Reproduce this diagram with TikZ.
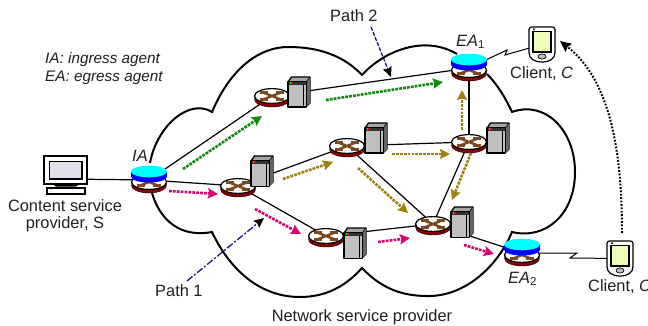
\documentclass[tikz,border=0pt]{standalone}
\usepackage{fontspec}
\setmainfont{Liberation Sans}
\usetikzlibrary{arrows.meta}
\definecolor{routerred}{HTML}{8B0000}
\definecolor{crossbrown}{HTML}{7A4A1E}
\definecolor{pathgreen}{HTML}{128A12}
\definecolor{pathpink}{HTML}{D4086A}
\definecolor{patholive}{HTML}{A08010}
\definecolor{pathnavy}{HTML}{1A1090}
\definecolor{screenpda}{HTML}{F0FFB8}
\definecolor{screenpc}{HTML}{DFE0EA}
\definecolor{capcyan}{HTML}{00FFFF}
\definecolor{capblue}{HTML}{0000FF}
\tikzset{
  anchorpt/.style={inner sep=0pt,minimum size=0pt,outer sep=0pt},
  lbl/.style={inner sep=0pt,text=black!88,font=\fontsize{16.4}{18}\selectfont},
  ilbl/.style={lbl,font=\fontsize{16.4}{18}\selectfont\itshape},
  legend/.style={lbl,font=\fontsize{15.3}{17}\selectfont\itshape},
  link/.style={line width=1.2pt,black},
  cloudline/.style={line width=2pt,black},
  flow/.style={line width=2.6pt,dash pattern=on 2.8pt off 1.1pt,-{Stealth[length=10pt,width=10pt,inset=1.5pt]}},
  flowgreen/.style={flow,draw=pathgreen},
  flowpink/.style={flow,draw=pathpink},
  flowolive/.style={flow,draw=patholive},
  pathtag/.style={line width=1.3pt,draw=pathnavy,-{Stealth[length=10pt,width=9pt,inset=1.5pt,black]}},
  routerdisc/.pic={
    \fill[routerred,draw=black,line width=.4pt] (-17.5,0) -- (-17.5,3.5) arc[start angle=180,end angle=360,x radius=17.5pt,y radius=7.5pt] -- (17.5,0) -- cycle;
    \draw[fill=white,line width=1.2pt] (0,0) ellipse (17.5pt and 7.4pt);
    \draw[crossbrown,line width=2.5pt] (-8,-3.2) -- (8,3.2) (-8,3.2) -- (8,-3.2);
    \draw[crossbrown,line width=2.3pt] (-12,-3.4) -- (-4,-3.4) (4,-3.4) -- (12,-3.4) (-12,3.4) -- (-4,3.4) (4,3.4) -- (12,3.4);
  },
  agentcap/.pic={
    \fill[capblue] (-18,-8.5) -- (-18,-3.3) arc[start angle=180,end angle=360,x radius=18pt,y radius=5.8pt] -- (18,-8.5) -- cycle;
    \fill[capcyan] (0,-8.5) ellipse (18pt and 5.8pt);
  },
  serverbox/.pic={
    \draw[fill=black!35,line width=1.3pt,line join=round] (-11,-10) -- (-7.5,-15) -- (11,-15) -- (11,11) -- (7,15) -- (-11,15) -- cycle;
    \fill[black!60] (7,-10) -- (11,-15) -- (11,11) -- (7,15) -- cycle;
    \draw[line width=1.3pt,line join=round] (-11,15) rectangle (7,-10);
    \fill[black!80] (-10.5,-10) rectangle (6.5,-7);
    \fill[black!25] (-10.5,-7) rectangle (6.5,14.5);
    \draw[line width=.7pt] (4.5,-7) -- (4.5,14.5);
    \draw[line width=.6pt] (7,-10) -- (11,-15);
    \fill[green] (-9.5,-9.7) rectangle (-8,-8.2);
    \fill[red] (-8,-9.7) rectangle (-6.5,-8.2);
  },
  pda/.pic={
    \draw[fill=white,line width=1.2pt] (-13,-15) -- (-13,8) .. controls (-13,14) and (-8,17.5) .. (0,17.5) .. controls (8,17.5) and (13,14) .. (13,8) -- (13,-15) .. controls (13,-17.5) and (11,-17.5) .. (10,-17.5) -- (-10,-17.5) .. controls (-11,-17.5) and (-13,-17.5) .. (-13,-15) -- cycle;
    \draw[fill=screenpda,line width=1.1pt] (-9,-13) rectangle (9,7.5);
    \draw[fill=black!25,line width=.7pt] (0,12) ellipse (4pt and 2.6pt);
    \fill (-8,-15.2) circle (1.1pt);
  },
}
\begin{document}
\begin{tikzpicture}[x=1pt,y=-1pt]
\useasboundingbox (0,0) rectangle (648,326);
\clip (0,0) rectangle (648,326);
% anchors of the network elements
\node[anchorpt] (pc) at (65,179) {};
\node[anchorpt] (ia) at (149,180) {};
\node[anchorpt] (ea1) at (469,68) {};
\node[anchorpt] (ea2) at (522,253) {};
\node[anchorpt] (r1) at (272,96) {};
\node[anchorpt] (r2) at (238,186) {};
\node[anchorpt] (r3) at (347,146) {};
\node[anchorpt] (r4) at (326,236) {};
\node[anchorpt] (r5) at (469,142) {};
\node[anchorpt] (r6) at (433,224) {};
\node[anchorpt] (s1) at (299,92) {};
\node[anchorpt] (s2) at (262,171) {};
\node[anchorpt] (s3) at (376,138) {};
\node[anchorpt] (s4) at (355,243) {};
\node[anchorpt] (s5) at (498,138) {};
\node[anchorpt] (s6) at (462,222) {};
\node[anchorpt] (c1) at (542,44.5) {};
\node[anchorpt] (c2) at (620,258.5) {};
% cloud
\draw[cloudline] (150,163) .. controls (157,125) and (190,98) .. (212,112)
  .. controls (232,65) and (262,47) .. (288,47)
  .. controls (318,47) and (343,55) .. (362,75)
  .. controls (385,50) and (425,35) .. (457,54);
\draw[cloudline] (487,74) .. controls (497,84) and (505,97) .. (512,112)
  .. controls (545,100) and (575,130) .. (575,172)
  .. controls (575,215) and (545,240) .. (512,232)
  .. controls (495,272) and (460,297) .. (427,296)
  .. controls (400,296) and (380,287) .. (362,268)
  .. controls (345,287) and (325,297) .. (300,297)
  .. controls (260,297) and (230,270) .. (212,232)
  .. controls (180,238) and (160,220) .. (152,193);
% links
\draw[link] (pc) -- (ia);
\draw[link] (ia) -- (r1);
\draw[link] (ia) -- (r2);
\draw[link] (r1) -- (ea1);
\draw[link] (r2) -- (r3);
\draw[link] (r2) -- (r4);
\draw[link] (r3) -- (r5);
\draw[link] (r3) -- (r6);
\draw[link] (r4) -- (r6);
\draw[link] (r5) -- (r6);
\draw[link] (r5) -- (ea1);
\draw[link] (r6) -- (ea2);
% wireless links
\draw[line width=1pt] (ea1) -- (507,50) -- (505,55) -- (c1);
\draw[line width=1pt] (ea2) -- (577,253) -- (570,258) -- (c2);
% routers, agents, servers
\foreach \n in {r1,r2,r3,r4,r5,r6} \pic at (\n) {routerdisc};
\foreach \n in {ia,ea1,ea2} {
  \path (\n) ++(0,2) pic {routerdisc};
  \pic at (\n) {agentcap};
}
\foreach \n in {s1,s2,s3,s4,s5,s6} \pic at (\n) {serverbox};
% computer
\draw[fill=white,line width=1.2pt] (44,156) rectangle (87,184);
\draw[fill=screenpc,line width=1.5pt] (49.5,161.5) rectangle (82,179);
\fill (52,184) -- (56,186.5) -- (76,186.5) -- (80,184) -- cycle;
\draw[fill=white,line width=1.2pt] (47,188) rectangle (85,194);
% clients
\pic at (c1) {pda};
\pic at (c2) {pda};
% flows
\draw[flowgreen] (183,169) -- (262,116);
\draw[flowgreen] (326,100) -- (443,82);
\draw[flowpink] (169,191) -- (218,194);
\draw[flowpink] (255,209) -- (301,234);
\draw[flowpink] (378,242) -- (410,238);
\draw[flowpink] (464,245) -- (494,254);
\draw[flowolive] (283,179) -- (333,162);
\draw[flowolive] (358,168) -- (408,213);
\draw[flowolive] (392,154) -- (450,154);
\draw[flowolive] (462,130) -- (462,90);
\draw[flowolive] (471,153) -- (452,200);
% path tags
\node[lbl,anchor=west] (path1) at (155,291) {Path 1};
\node[lbl,anchor=west] (path2) at (330,16) {Path 2};
\coordinate (t1) at (264,218);
\coordinate (t2) at (391,77);
\draw[pathtag,dash pattern=on 7pt off 2pt on 2pt off 2pt] (187,281) -- (t1);
\draw[pathtag,dash pattern=on 4pt off 1.5pt] (371,27) -- (t2);
% client dotted link
\draw[line width=2pt,dash pattern=on 1.8pt off 1.6pt,-{Stealth[length=11pt,width=10pt,inset=1.5pt]}] (622,233) .. controls (622,150) and (610,80) .. (560,41);
% labels
\node[legend,anchor=west] (legend1) at (45,60) {IA: ingress agent};
\node[legend,anchor=west] (legend2) at (45,78) {EA: egress agent};
\node[ilbl,anchor=west] (lia) at (132,156) {IA};
\node[ilbl,anchor=west] (lea1) at (456,42) {EA\textsubscript{\upshape 1}};
\node[ilbl,anchor=west] (lea2) at (508,279) {EA\textsubscript{\upshape 2}};
\node[lbl,anchor=west] (lc1) at (510,74) {Client, \textit{C}};
\node[lbl,anchor=west] (lc2) at (588,287) {Client, \textit{C}};
\node[lbl,anchor=center] (lcsp1) at (65,206) {Content service};
\node[lbl,anchor=center] (lcsp2) at (65,224) {provider, S};
\node[lbl,anchor=center] (lnsp) at (362,317) {Network service provider};
\end{tikzpicture}
\end{document}
